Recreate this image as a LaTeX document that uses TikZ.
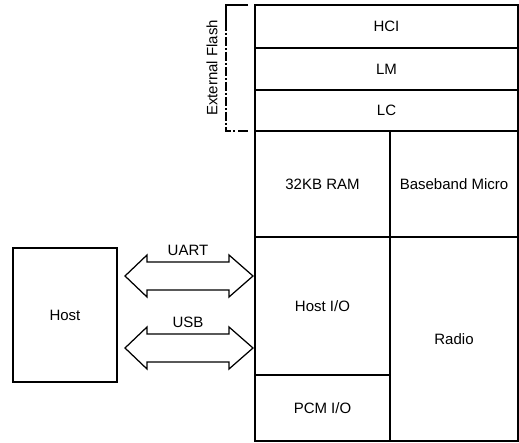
\documentclass[tikz,border=0pt]{standalone}
\usepackage{fontspec}
\setmainfont{Liberation Sans}
\begin{document}
\begin{tikzpicture}[x=1pt,y=-1pt,
  box/.style={draw, line width=1.25pt, anchor=north west, inner sep=0pt, outer sep=0pt,
    font=\fontsize{15}{17}\selectfont},
  dblarr/.style={draw, line width=1.25pt, fill=white},
  lbl/.style={font=\fontsize{15}{17}\selectfont, inner sep=0pt}]
\useasboundingbox (0,0) rectangle (519,443);
% main stack
\node[box, minimum width=263, minimum height=43] (hci) at (255,5) {HCI};
\node[box, minimum width=263, minimum height=42] (lm) at (255,48) {LM};
\node[box, minimum width=263, minimum height=41] (lc) at (255,90) {LC};
\node[box, minimum width=135, minimum height=106] (ram) at (255,131) {32KB RAM};
\node[box, minimum width=128, minimum height=106] (bbm) at (390,131) {Baseband Micro};
\node[box, minimum width=135, minimum height=138] (hostio) at (255,237) {Host I/O};
\node[box, minimum width=135, minimum height=66] (pcm) at (255,375) {PCM I/O};
\node[box, minimum width=128, minimum height=204] (radio) at (390,237) {Radio};
\node[box, minimum width=104, minimum height=134] (host) at (13,248) {Host};
% external flash bracket
\coordinate (bt) at (248,5);
\coordinate (bb) at (248,131);
\draw[line width=1.25pt] (bt) -- (226,5) -- (226,22);
\draw[line width=1.25pt, dash pattern=on 9pt off 2pt on 2pt off 2pt] (226,22) -- (226,131) -- (236,131);
\draw[line width=1.8pt] (238,131) -- (bb);
\node[lbl, rotate=90] (ext) at (212,68) {External Flash};
% double arrows
\foreach \cy/\nm/\txt in {276/uart/UART, 348/usb/USB}{
  \draw[dblarr] (125,\cy) -- (147,\cy-21) -- (147,\cy-14) -- (229,\cy-14) -- (229,\cy-21)
    -- (253,\cy) -- (229,\cy+21) -- (229,\cy+14) -- (147,\cy+14) -- (147,\cy+21) -- cycle;
  \node[lbl, anchor=south] (\nm) at (188,\cy-20) {\txt};
}
\end{tikzpicture}
\end{document}
